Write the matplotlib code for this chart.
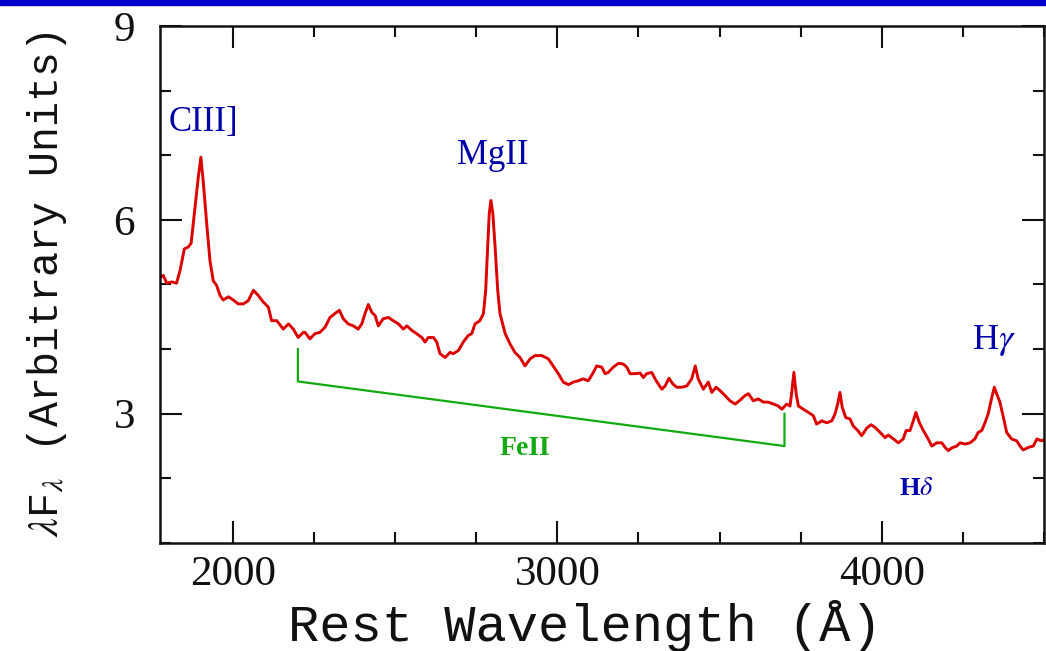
import matplotlib
matplotlib.use("Agg")
import matplotlib.pyplot as plt
from matplotlib.patches import Rectangle
from matplotlib.ticker import MultipleLocator

# ---- data ----
wavelength = [1775, 1785, 1796, 1811, 1826, 1837, 1850, 1862, 1871, 1883, 1893, 1901, 1908, 1919, 1929,
              1939, 1950, 1960, 1970, 1986, 2001, 2016, 2032, 2047, 2063, 2078, 2093, 2109, 2119, 2135,
              2155, 2171, 2186, 2201, 2217, 2222, 2237, 2253, 2268, 2284, 2299, 2314, 2328, 2340, 2355,
              2371, 2386, 2397, 2407, 2417, 2428, 2438, 2448, 2463, 2479, 2494, 2510, 2525, 2536, 2551,
              2566, 2582, 2592, 2602, 2618, 2628, 2638, 2654, 2669, 2679, 2695, 2710, 2725, 2736, 2746,
              2761, 2772, 2779, 2785, 2790, 2795, 2801, 2808, 2816, 2823, 2839, 2854, 2869, 2885, 2900,
              2916, 2931, 2952, 2972, 2987, 3003, 3018, 3034, 3049, 3064, 3080, 3095, 3111, 3121, 3137,
              3147, 3157, 3172, 3188, 3203, 3214, 3224, 3239, 3255, 3265, 3275, 3291, 3301, 3311, 3322,
              3332, 3344, 3356, 3368, 3383, 3399, 3414, 3425, 3434, 3450, 3465, 3476, 3489, 3501, 3517,
              3532, 3548, 3563, 3578, 3589, 3604, 3619, 3635, 3650, 3666, 3681, 3692, 3707, 3717, 3722,
              3729, 3736, 3743, 3758, 3774, 3789, 3799, 3815, 3830, 3846, 3856, 3864, 3871, 3878, 3889,
              3902, 3912, 3926, 3938, 3954, 3967, 3979, 3995, 4010, 4020, 4036, 4051, 4066, 4075, 4087,
              4097, 4105, 4116, 4128, 4143, 4154, 4169, 4185, 4195, 4205, 4215, 4231, 4241, 4257, 4272,
              4287, 4297, 4308, 4318, 4328, 4339, 4347, 4354, 4364, 4375, 4385, 4400, 4416, 4426, 4436,
              4452, 4467, 4478, 4493, 4503]
flux = [5.11, 5.14, 5.02, 5.04, 5.02, 5.22, 5.55, 5.58, 5.64, 6.20, 6.66, 6.97, 6.61, 5.94, 5.37,
        5.06, 4.98, 4.83, 4.76, 4.81, 4.76, 4.70, 4.70, 4.75, 4.91, 4.83, 4.73, 4.65, 4.44, 4.44,
        4.31, 4.39, 4.31, 4.18, 4.26, 4.26, 4.16, 4.24, 4.26, 4.34, 4.49, 4.55, 4.60, 4.47, 4.39,
        4.36, 4.31, 4.39, 4.55, 4.69, 4.57, 4.52, 4.36, 4.47, 4.49, 4.44, 4.39, 4.31, 4.36, 4.29,
        4.24, 4.18, 4.11, 4.18, 4.18, 4.11, 3.93, 3.87, 3.95, 3.93, 3.98, 4.11, 4.21, 4.24, 4.39,
        4.44, 4.55, 4.91, 5.58, 6.10, 6.30, 6.10, 5.58, 4.91, 4.55, 4.24, 4.08, 3.95, 3.87, 3.74,
        3.85, 3.90, 3.90, 3.85, 3.74, 3.62, 3.49, 3.45, 3.49, 3.51, 3.54, 3.51, 3.64, 3.74, 3.72,
        3.62, 3.64, 3.72, 3.78, 3.77, 3.72, 3.62, 3.62, 3.63, 3.56, 3.62, 3.64, 3.54, 3.46, 3.38,
        3.43, 3.55, 3.46, 3.41, 3.41, 3.43, 3.54, 3.74, 3.54, 3.38, 3.49, 3.33, 3.41, 3.36, 3.28,
        3.20, 3.15, 3.21, 3.28, 3.31, 3.20, 3.23, 3.18, 3.18, 3.15, 3.12, 3.07, 3.15, 3.12, 3.31,
        3.64, 3.31, 3.12, 3.07, 3.02, 2.97, 2.84, 2.89, 2.86, 2.89, 3.00, 3.15, 3.33, 3.10, 2.94,
        2.92, 2.81, 2.74, 2.66, 2.78, 2.83, 2.79, 2.71, 2.63, 2.67, 2.61, 2.55, 2.61, 2.74, 2.74,
        2.89, 3.02, 2.86, 2.74, 2.61, 2.50, 2.55, 2.55, 2.48, 2.43, 2.47, 2.50, 2.55, 2.53, 2.55,
        2.61, 2.71, 2.74, 2.86, 3.00, 3.25, 3.41, 3.31, 3.18, 2.94, 2.71, 2.61, 2.58, 2.50, 2.44,
        2.48, 2.50, 2.61, 2.58, 2.61]

feii_x = [2200, 2200, 3700, 3700]
feii_y = [4.0, 3.5, 2.5, 3.0]

line_labels = ["CIII]", "MgII", r"H$\gamma$", r"H$\delta$", "FeII"]
label_x = [1910, 2800, 4345, 4105, 2900]
label_y = [7.5, 7.0, 4.13, 1.85, 2.46]

xticks_major = [2000, 3000, 4000]
yticks_major = [3, 6, 9]

# ---- figure ----
plt.rcParams['mathtext.fontset'] = 'stix'
fig = plt.figure(figsize=(10.46, 6.51), dpi=100)
ax = fig.add_axes([160 / 1046, 108 / 651, 884 / 1046, 517 / 651])

ax.plot(wavelength, flux, color='#dd0000', lw=2.1, solid_joinstyle='round')
ax.plot(feii_x, feii_y, color='#11aa11', lw=1.6)

ax.set_xlim(1775, 4500)
ax.set_ylim(1, 9)
ax.set_xticks(xticks_major)
ax.set_yticks(yticks_major)
ax.xaxis.set_minor_locator(MultipleLocator(250))
ax.yaxis.set_minor_locator(MultipleLocator(1))
ax.tick_params(which='both', direction='in', top=True, right=True, width=1.5, color='#111111')
ax.tick_params(which='major', length=16)
ax.tick_params(which='minor', length=8)
ax.tick_params(axis='y', which='major', pad=18)
ax.tick_params(axis='x', which='major', pad=9)
for s in ax.spines.values():
    s.set_linewidth(1.8)
    s.set_color('#111111')
for lab in ax.get_xticklabels() + ax.get_yticklabels():
    lab.set_fontfamily('Liberation Serif')
    lab.set_fontsize(31)
    lab.set_color('#111111')

ax.set_xlabel('Rest Wavelength (Å)', family='Liberation Mono', fontsize=37.5, color='#111111')
ax.xaxis.set_label_coords((585 - 160) / 884, -0.16)
ax.xaxis.label.set_va('center')
ax.set_ylabel(r'$\lambda$F$_\lambda$ (Arbitrary Units)', family='Liberation Mono', fontsize=30,
              color='#111111')
ax.yaxis.set_label_coords((47 - 160) / 884, 0.5)
ax.yaxis.label.set_va('center')

blue = '#0000aa'
green = '#11aa11'
styles = [
    dict(color=blue, fontsize=25, family='Liberation Serif'),
    dict(color=blue, fontsize=25, family='Liberation Serif'),
    dict(color=blue, fontsize=26, family='Liberation Serif'),
    dict(color=blue, fontsize=19, family='Liberation Serif', fontweight='bold'),
    dict(color=green, fontsize=20, family='Liberation Serif', fontweight='bold'),
]
for t, x, y, st in zip(line_labels, label_x, label_y, styles):
    ax.text(x, y, t, ha='center', va='center', **st)

fig.patches.append(Rectangle((0, 646 / 651), 1, 5 / 651, transform=fig.transFigure,
                             color='#0000cc', zorder=10))

fig.savefig('out.png', dpi=100)
